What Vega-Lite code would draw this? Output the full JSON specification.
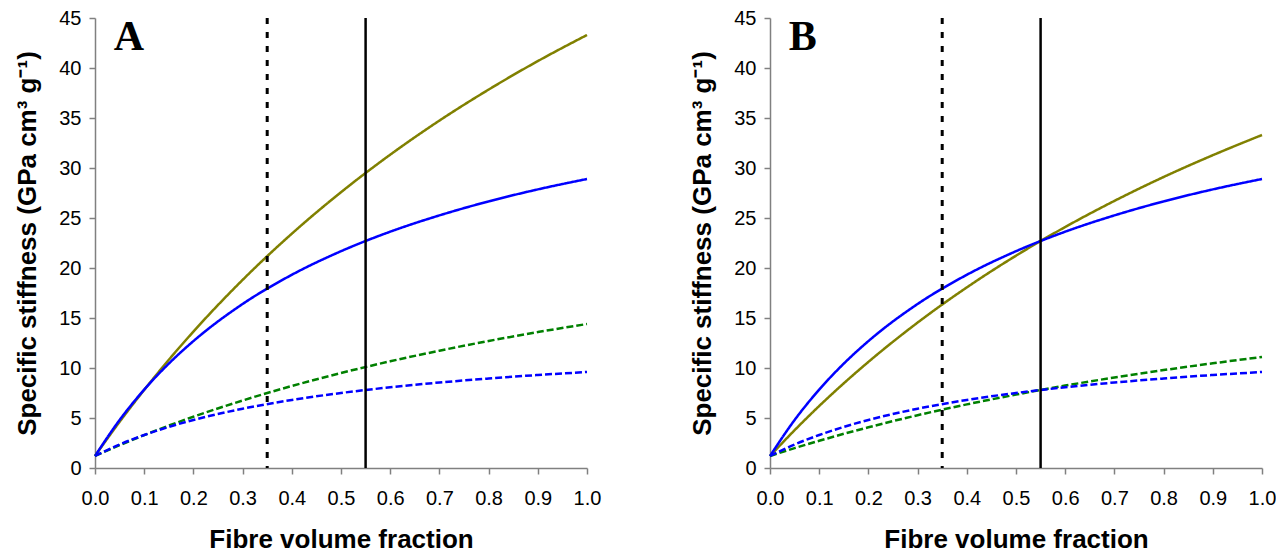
{
  "$schema": "https://vega.github.io/schema/vega-lite/v6.json",
  "autosize": {"type": "pad"},
  "padding": {"left": 14, "top": 8, "right": 0, "bottom": 0},
  "background": "white",
  "config": {
    "view": {"stroke": null},
    "font": "Liberation Sans",
    "axis": {
      "grid": false,
      "domainColor": "#808080",
      "domainWidth": 1.5,
      "tickColor": "#808080",
      "tickWidth": 1.5,
      "tickSize": 6,
      "labelFont": "Liberation Sans",
      "labelFontSize": 20,
      "labelColor": "black",
      "titleFont": "Liberation Sans",
      "titleFontSize": 26,
      "titleFontWeight": "bold",
      "titleColor": "black"
    }
  },
  "datasets": {
    "curves": [
      {"panel":"A","curve":"olive","vf":0,"stiffness":1.2},
      {"panel":"A","curve":"olive","vf":0.05,"stiffness":4.62},
      {"panel":"A","curve":"olive","vf":0.1,"stiffness":7.81},
      {"panel":"A","curve":"olive","vf":0.15,"stiffness":10.82},
      {"panel":"A","curve":"olive","vf":0.2,"stiffness":13.64},
      {"panel":"A","curve":"olive","vf":0.3,"stiffness":18.81},
      {"panel":"A","curve":"olive","vf":0.4,"stiffness":23.43},
      {"panel":"A","curve":"olive","vf":0.5,"stiffness":27.58},
      {"panel":"A","curve":"olive","vf":0.6,"stiffness":31.33},
      {"panel":"A","curve":"olive","vf":0.7,"stiffness":34.74},
      {"panel":"A","curve":"olive","vf":0.8,"stiffness":37.84},
      {"panel":"A","curve":"olive","vf":0.9,"stiffness":40.69},
      {"panel":"A","curve":"olive","vf":1.0,"stiffness":43.3},
      {"panel":"A","curve":"blue","vf":0,"stiffness":1.2},
      {"panel":"A","curve":"blue","vf":0.05,"stiffness":4.8},
      {"panel":"A","curve":"blue","vf":0.1,"stiffness":7.84},
      {"panel":"A","curve":"blue","vf":0.15,"stiffness":10.44},
      {"panel":"A","curve":"blue","vf":0.2,"stiffness":12.69},
      {"panel":"A","curve":"blue","vf":0.3,"stiffness":16.4},
      {"panel":"A","curve":"blue","vf":0.4,"stiffness":19.32},
      {"panel":"A","curve":"blue","vf":0.5,"stiffness":21.68},
      {"panel":"A","curve":"blue","vf":0.6,"stiffness":23.63},
      {"panel":"A","curve":"blue","vf":0.7,"stiffness":25.26},
      {"panel":"A","curve":"blue","vf":0.8,"stiffness":26.66},
      {"panel":"A","curve":"blue","vf":0.9,"stiffness":27.86},
      {"panel":"A","curve":"blue","vf":1.0,"stiffness":28.9},
      {"panel":"A","curve":"green dashed","vf":0,"stiffness":1.2},
      {"panel":"A","curve":"green dashed","vf":0.05,"stiffness":2.28},
      {"panel":"A","curve":"green dashed","vf":0.1,"stiffness":3.29},
      {"panel":"A","curve":"green dashed","vf":0.15,"stiffness":4.24},
      {"panel":"A","curve":"green dashed","vf":0.2,"stiffness":5.13},
      {"panel":"A","curve":"green dashed","vf":0.3,"stiffness":6.75},
      {"panel":"A","curve":"green dashed","vf":0.4,"stiffness":8.2},
      {"panel":"A","curve":"green dashed","vf":0.5,"stiffness":9.5},
      {"panel":"A","curve":"green dashed","vf":0.6,"stiffness":10.67},
      {"panel":"A","curve":"green dashed","vf":0.7,"stiffness":11.73},
      {"panel":"A","curve":"green dashed","vf":0.8,"stiffness":12.7},
      {"panel":"A","curve":"green dashed","vf":0.9,"stiffness":13.59},
      {"panel":"A","curve":"green dashed","vf":1.0,"stiffness":14.4},
      {"panel":"A","curve":"blue dashed","vf":0,"stiffness":1.2},
      {"panel":"A","curve":"blue dashed","vf":0.05,"stiffness":2.35},
      {"panel":"A","curve":"blue dashed","vf":0.1,"stiffness":3.3},
      {"panel":"A","curve":"blue dashed","vf":0.15,"stiffness":4.11},
      {"panel":"A","curve":"blue dashed","vf":0.2,"stiffness":4.8},
      {"panel":"A","curve":"blue dashed","vf":0.3,"stiffness":5.93},
      {"panel":"A","curve":"blue dashed","vf":0.4,"stiffness":6.8},
      {"panel":"A","curve":"blue dashed","vf":0.5,"stiffness":7.5},
      {"panel":"A","curve":"blue dashed","vf":0.6,"stiffness":8.07},
      {"panel":"A","curve":"blue dashed","vf":0.7,"stiffness":8.55},
      {"panel":"A","curve":"blue dashed","vf":0.8,"stiffness":8.95},
      {"panel":"A","curve":"blue dashed","vf":0.9,"stiffness":9.3},
      {"panel":"A","curve":"blue dashed","vf":1.0,"stiffness":9.6},
      {"panel":"B","curve":"olive","vf":0,"stiffness":1.2},
      {"panel":"B","curve":"olive","vf":0.05,"stiffness":3.78},
      {"panel":"B","curve":"olive","vf":0.1,"stiffness":6.2},
      {"panel":"B","curve":"olive","vf":0.15,"stiffness":8.47},
      {"panel":"B","curve":"olive","vf":0.2,"stiffness":10.61},
      {"panel":"B","curve":"olive","vf":0.3,"stiffness":14.54},
      {"panel":"B","curve":"olive","vf":0.4,"stiffness":18.06},
      {"panel":"B","curve":"olive","vf":0.5,"stiffness":21.23},
      {"panel":"B","curve":"olive","vf":0.6,"stiffness":24.1},
      {"panel":"B","curve":"olive","vf":0.7,"stiffness":26.71},
      {"panel":"B","curve":"olive","vf":0.8,"stiffness":29.1},
      {"panel":"B","curve":"olive","vf":0.9,"stiffness":31.28},
      {"panel":"B","curve":"olive","vf":1.0,"stiffness":33.3},
      {"panel":"B","curve":"blue","vf":0,"stiffness":1.2},
      {"panel":"B","curve":"blue","vf":0.05,"stiffness":4.8},
      {"panel":"B","curve":"blue","vf":0.1,"stiffness":7.84},
      {"panel":"B","curve":"blue","vf":0.15,"stiffness":10.44},
      {"panel":"B","curve":"blue","vf":0.2,"stiffness":12.69},
      {"panel":"B","curve":"blue","vf":0.3,"stiffness":16.4},
      {"panel":"B","curve":"blue","vf":0.4,"stiffness":19.32},
      {"panel":"B","curve":"blue","vf":0.5,"stiffness":21.68},
      {"panel":"B","curve":"blue","vf":0.6,"stiffness":23.63},
      {"panel":"B","curve":"blue","vf":0.7,"stiffness":25.26},
      {"panel":"B","curve":"blue","vf":0.8,"stiffness":26.66},
      {"panel":"B","curve":"blue","vf":0.9,"stiffness":27.86},
      {"panel":"B","curve":"blue","vf":1.0,"stiffness":28.9},
      {"panel":"B","curve":"green dashed","vf":0,"stiffness":1.2},
      {"panel":"B","curve":"green dashed","vf":0.05,"stiffness":1.99},
      {"panel":"B","curve":"green dashed","vf":0.1,"stiffness":2.72},
      {"panel":"B","curve":"green dashed","vf":0.15,"stiffness":3.42},
      {"panel":"B","curve":"green dashed","vf":0.2,"stiffness":4.07},
      {"panel":"B","curve":"green dashed","vf":0.3,"stiffness":5.28},
      {"panel":"B","curve":"green dashed","vf":0.4,"stiffness":6.36},
      {"panel":"B","curve":"green dashed","vf":0.5,"stiffness":7.34},
      {"panel":"B","curve":"green dashed","vf":0.6,"stiffness":8.24},
      {"panel":"B","curve":"green dashed","vf":0.7,"stiffness":9.05},
      {"panel":"B","curve":"green dashed","vf":0.8,"stiffness":9.79},
      {"panel":"B","curve":"green dashed","vf":0.9,"stiffness":10.47},
      {"panel":"B","curve":"green dashed","vf":1.0,"stiffness":11.1},
      {"panel":"B","curve":"blue dashed","vf":0,"stiffness":1.2},
      {"panel":"B","curve":"blue dashed","vf":0.05,"stiffness":2.35},
      {"panel":"B","curve":"blue dashed","vf":0.1,"stiffness":3.3},
      {"panel":"B","curve":"blue dashed","vf":0.15,"stiffness":4.11},
      {"panel":"B","curve":"blue dashed","vf":0.2,"stiffness":4.8},
      {"panel":"B","curve":"blue dashed","vf":0.3,"stiffness":5.93},
      {"panel":"B","curve":"blue dashed","vf":0.4,"stiffness":6.8},
      {"panel":"B","curve":"blue dashed","vf":0.5,"stiffness":7.5},
      {"panel":"B","curve":"blue dashed","vf":0.6,"stiffness":8.07},
      {"panel":"B","curve":"blue dashed","vf":0.7,"stiffness":8.55},
      {"panel":"B","curve":"blue dashed","vf":0.8,"stiffness":8.95},
      {"panel":"B","curve":"blue dashed","vf":0.9,"stiffness":9.3},
      {"panel":"B","curve":"blue dashed","vf":1.0,"stiffness":9.6}
    ],
    "refs": [
      {"vf": 0.35, "kind": "dotted"},
      {"vf": 0.55, "kind": "solid"}
    ]
  },
  "hconcat": [
    {
      "width": 492,
      "height": 450,
      "layer": [
        {
          "data": {"name": "curves"},
          "transform": [{"filter": "datum.panel == 'A'"}],
          "mark": {"type": "line", "interpolate": "monotone"},
          "encoding": {
            "x": {"field": "vf", "type": "quantitative", "scale": {"domain": [0, 1], "nice": false},
                  "axis": {"title": "Fibre volume fraction", "values": [0,0.1,0.2,0.3,0.4,0.5,0.6,0.7,0.8,0.9,1.0], "format": ".1f", "labelPadding": 14, "titlePadding": 18, "labelFlush": false}},
            "y": {"field": "stiffness", "type": "quantitative", "scale": {"domain": [0, 45], "nice": false},
                  "axis": {"title": "Specific stiffness (GPa cm³ g⁻¹)", "values": [0,5,10,15,20,25,30,35,40,45], "labelPadding": 8, "titlePadding": 18}},
            "color": {"field": "curve", "type": "nominal", "legend": null,
                      "scale": {"domain": ["olive","blue","green dashed","blue dashed"], "range": ["#808000","#0000ff","#008000","#0000ff"]}},
            "strokeDash": {"field": "curve", "type": "nominal", "legend": null,
                      "scale": {"domain": ["olive","blue","green dashed","blue dashed"], "range": [[1,0],[1,0],[7,3],[7,3]]}},
            "strokeWidth": {"field": "curve", "type": "nominal", "legend": null,
                      "scale": {"domain": ["olive","blue","green dashed","blue dashed"], "range": [2.5,2.5,3,3]}}
          }
        },
        {
          "data": {"name": "refs"},
          "transform": [{"filter": "datum.kind == 'dotted'"}],
          "mark": {"type": "rule", "color": "black", "strokeDash": [6, 8], "strokeWidth": 3},
          "encoding": {"x": {"field": "vf", "type": "quantitative"}}
        },
        {
          "data": {"name": "refs"},
          "transform": [{"filter": "datum.kind == 'solid'"}],
          "mark": {"type": "rule", "color": "black", "strokeWidth": 2.5},
          "encoding": {"x": {"field": "vf", "type": "quantitative"}}
        },
        {
          "data": {"values": [{"letter": "A"}]},
          "mark": {"type": "text", "font": "Liberation Serif", "fontWeight": "bold", "fontSize": 42, "align": "left", "baseline": "alphabetic", "color": "black"},
          "encoding": {
            "x": {"datum": 0.038, "type": "quantitative"},
            "y": {"datum": 41.8, "type": "quantitative"},
            "text": {"field": "letter"}
          }
        }
      ]
    },
    {
      "width": 492,
      "height": 450,
      "layer": [
        {
          "data": {"name": "curves"},
          "transform": [{"filter": "datum.panel == 'B'"}],
          "mark": {"type": "line", "interpolate": "monotone"},
          "encoding": {
            "x": {"field": "vf", "type": "quantitative", "scale": {"domain": [0, 1], "nice": false},
                  "axis": {"title": "Fibre volume fraction", "values": [0,0.1,0.2,0.3,0.4,0.5,0.6,0.7,0.8,0.9,1.0], "format": ".1f", "labelPadding": 14, "titlePadding": 18, "labelFlush": false}},
            "y": {"field": "stiffness", "type": "quantitative", "scale": {"domain": [0, 45], "nice": false},
                  "axis": {"title": "Specific stiffness (GPa cm³ g⁻¹)", "values": [0,5,10,15,20,25,30,35,40,45], "labelPadding": 8, "titlePadding": 18}},
            "color": {"field": "curve", "type": "nominal", "legend": null,
                      "scale": {"domain": ["olive","blue","green dashed","blue dashed"], "range": ["#808000","#0000ff","#008000","#0000ff"]}},
            "strokeDash": {"field": "curve", "type": "nominal", "legend": null,
                      "scale": {"domain": ["olive","blue","green dashed","blue dashed"], "range": [[1,0],[1,0],[7,3],[7,3]]}},
            "strokeWidth": {"field": "curve", "type": "nominal", "legend": null,
                      "scale": {"domain": ["olive","blue","green dashed","blue dashed"], "range": [2.5,2.5,3,3]}}
          }
        },
        {
          "data": {"name": "refs"},
          "transform": [{"filter": "datum.kind == 'dotted'"}],
          "mark": {"type": "rule", "color": "black", "strokeDash": [6, 8], "strokeWidth": 3},
          "encoding": {"x": {"field": "vf", "type": "quantitative"}}
        },
        {
          "data": {"name": "refs"},
          "transform": [{"filter": "datum.kind == 'solid'"}],
          "mark": {"type": "rule", "color": "black", "strokeWidth": 2.5},
          "encoding": {"x": {"field": "vf", "type": "quantitative"}}
        },
        {
          "data": {"values": [{"letter": "B"}]},
          "mark": {"type": "text", "font": "Liberation Serif", "fontWeight": "bold", "fontSize": 42, "align": "left", "baseline": "alphabetic", "color": "black"},
          "encoding": {
            "x": {"datum": 0.038, "type": "quantitative"},
            "y": {"datum": 41.8, "type": "quantitative"},
            "text": {"field": "letter"}
          }
        }
      ]
    }
  ],
  "spacing": 183,
  "bounds": "flush"
}
